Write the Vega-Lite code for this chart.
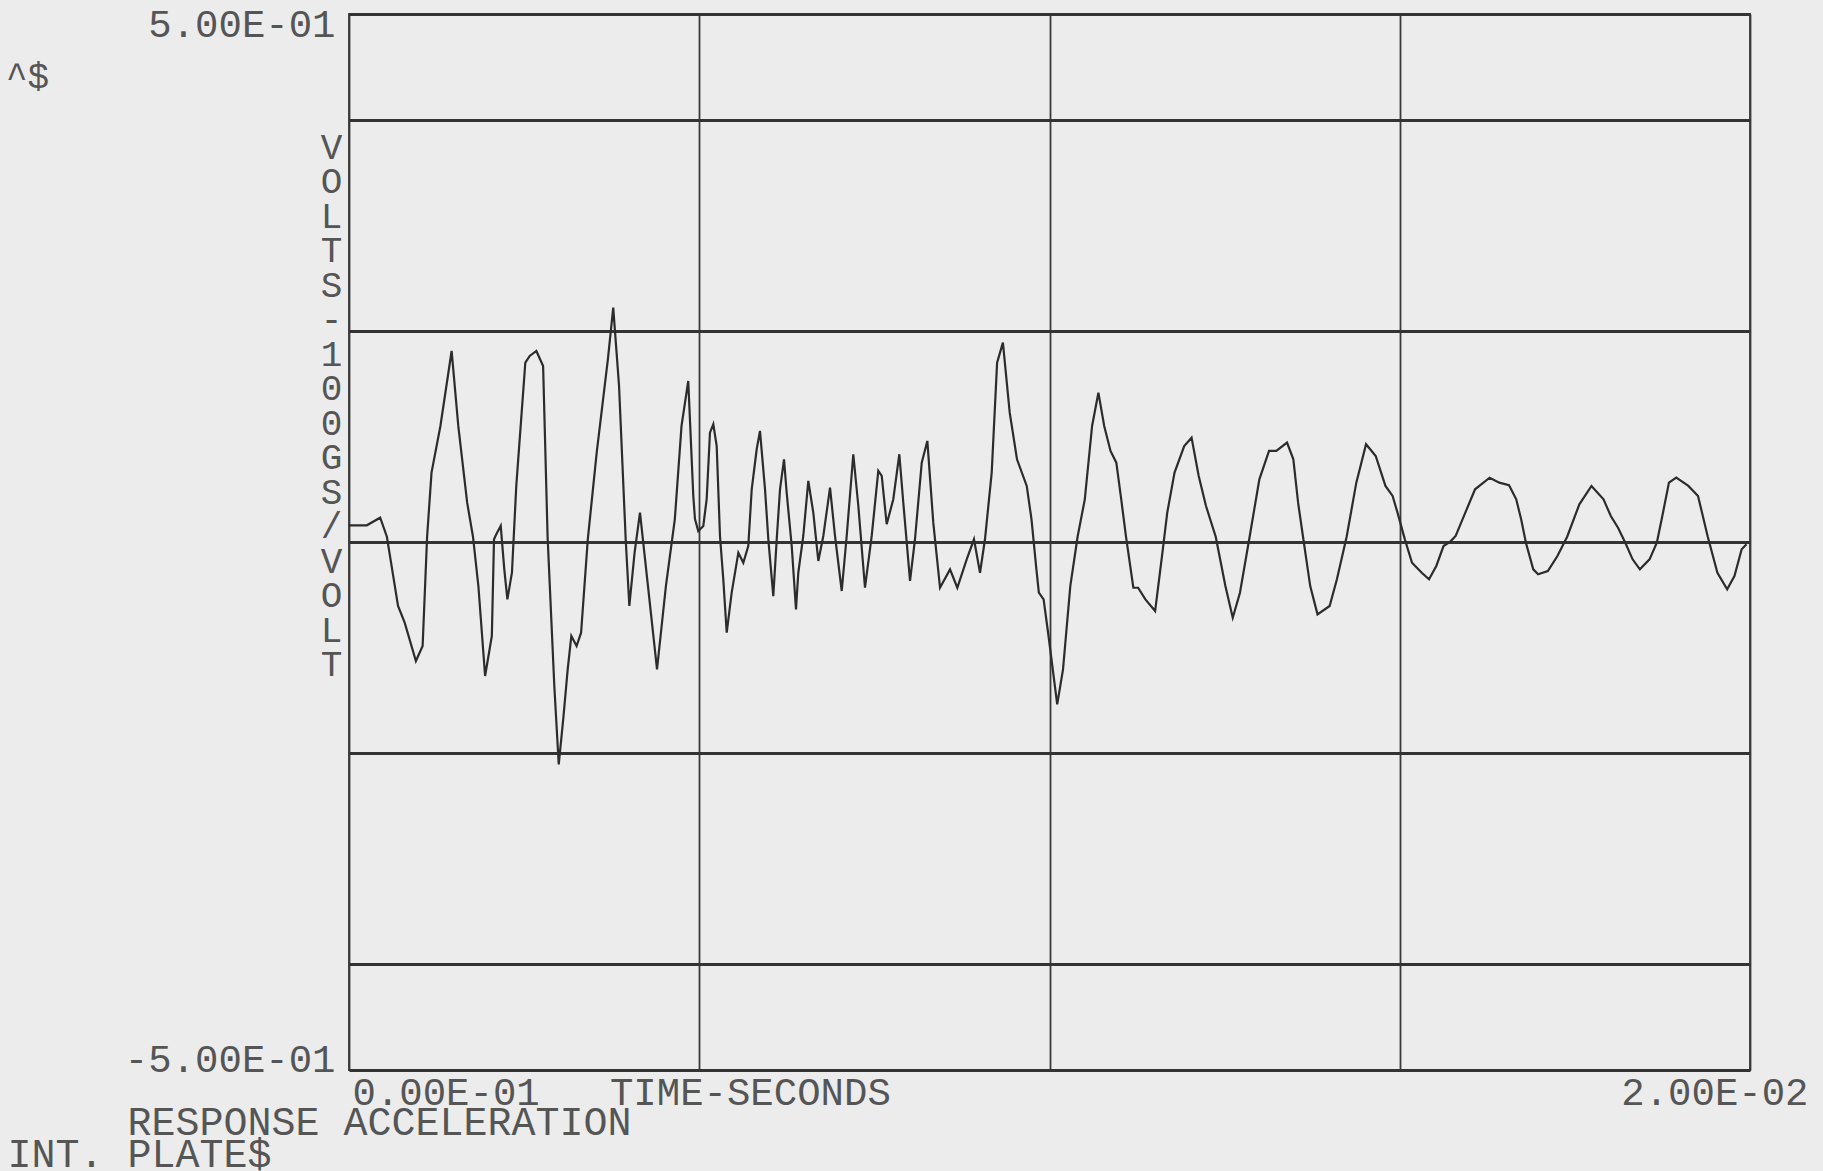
{
  "$schema": "https://vega.github.io/schema/vega-lite/v6.json",
  "autosize": {"type": "none"},
  "width": 1401,
  "height": 1056,
  "padding": {"left": 349, "top": 14, "right": 73, "bottom": 101},
  "background": "#ececec",
  "title": {
    "text": "^$",
    "anchor": "start",
    "frame": "group",
    "orient": "top",
    "offset": 0,
    "dx": -343,
    "dy": 119,
    "baseline": "alphabetic",
    "font": "Liberation Mono",
    "fontSize": 36,
    "fontWeight": "normal",
    "color": "#555555"
  },
  "data": {
    "values": [
      {"t": 0, "v": 0.0158},
      {"t": 0.000254, "v": 0.0158},
      {"t": 0.000445, "v": 0.0230},
      {"t": 0.000541, "v": 0.0050},
      {"t": 0.000700, "v": -0.0606},
      {"t": 0.000795, "v": -0.0764},
      {"t": 0.000955, "v": -0.1127},
      {"t": 0.001051, "v": -0.0985},
      {"t": 0.001115, "v": 0.0050},
      {"t": 0.001178, "v": 0.0657},
      {"t": 0.001305, "v": 0.1099},
      {"t": 0.001465, "v": 0.1809},
      {"t": 0.001560, "v": 0.1099},
      {"t": 0.001687, "v": 0.0372},
      {"t": 0.001770, "v": 0.0050},
      {"t": 0.001847, "v": -0.0417},
      {"t": 0.001943, "v": -0.1269},
      {"t": 0.002039, "v": -0.0890},
      {"t": 0.002070, "v": 0.0025},
      {"t": 0.002103, "v": 0.0073},
      {"t": 0.002166, "v": 0.0152},
      {"t": 0.002217, "v": -0.0259},
      {"t": 0.002261, "v": -0.0543},
      {"t": 0.002326, "v": -0.0291},
      {"t": 0.002388, "v": 0.0531},
      {"t": 0.002517, "v": 0.1699},
      {"t": 0.002580, "v": 0.1762},
      {"t": 0.002675, "v": 0.1809},
      {"t": 0.002771, "v": 0.1667},
      {"t": 0.002835, "v": 0.0050},
      {"t": 0.002931, "v": -0.1364},
      {"t": 0.002994, "v": -0.2106},
      {"t": 0.003058, "v": -0.1680},
      {"t": 0.003122, "v": -0.1206},
      {"t": 0.003174, "v": -0.0890},
      {"t": 0.003249, "v": -0.0985},
      {"t": 0.003313, "v": -0.0859},
      {"t": 0.003409, "v": 0.0025},
      {"t": 0.003536, "v": 0.0846},
      {"t": 0.003696, "v": 0.1731},
      {"t": 0.003772, "v": 0.2220},
      {"t": 0.003855, "v": 0.1478},
      {"t": 0.003950, "v": 0.0025},
      {"t": 0.004002, "v": -0.0606},
      {"t": 0.004077, "v": -0.0101},
      {"t": 0.004154, "v": 0.0278},
      {"t": 0.004268, "v": -0.0417},
      {"t": 0.004397, "v": -0.1206},
      {"t": 0.004524, "v": -0.0417},
      {"t": 0.004651, "v": 0.0215},
      {"t": 0.004747, "v": 0.1099},
      {"t": 0.004843, "v": 0.1525},
      {"t": 0.004915, "v": 0.0436},
      {"t": 0.004939, "v": 0.0218},
      {"t": 0.004986, "v": 0.0104},
      {"t": 0.005058, "v": 0.0152},
      {"t": 0.005106, "v": 0.0407},
      {"t": 0.005153, "v": 0.1035},
      {"t": 0.005201, "v": 0.1115},
      {"t": 0.005249, "v": 0.0909},
      {"t": 0.005296, "v": 0.0057},
      {"t": 0.005343, "v": -0.0351},
      {"t": 0.005392, "v": -0.0859},
      {"t": 0.005463, "v": -0.0480},
      {"t": 0.005558, "v": -0.0101},
      {"t": 0.005629, "v": -0.0196},
      {"t": 0.005700, "v": -0.0038},
      {"t": 0.005749, "v": 0.0499},
      {"t": 0.005820, "v": 0.0878},
      {"t": 0.005867, "v": 0.1052},
      {"t": 0.005939, "v": 0.0499},
      {"t": 0.005986, "v": 0.0026},
      {"t": 0.006057, "v": -0.0512},
      {"t": 0.006106, "v": 0.0026},
      {"t": 0.006153, "v": 0.0499},
      {"t": 0.006210, "v": 0.0783},
      {"t": 0.006248, "v": 0.0467},
      {"t": 0.006320, "v": -0.0038},
      {"t": 0.006381, "v": -0.0638},
      {"t": 0.006414, "v": -0.0291},
      {"t": 0.006485, "v": 0.0057},
      {"t": 0.006557, "v": 0.0578},
      {"t": 0.006628, "v": 0.0278},
      {"t": 0.006700, "v": -0.0180},
      {"t": 0.006771, "v": 0.0057},
      {"t": 0.006867, "v": 0.0514},
      {"t": 0.006938, "v": 0.0057},
      {"t": 0.007034, "v": -0.0464},
      {"t": 0.007105, "v": 0.0057},
      {"t": 0.007199, "v": 0.0831},
      {"t": 0.007271, "v": 0.0341},
      {"t": 0.007366, "v": -0.0433},
      {"t": 0.007462, "v": 0.0057},
      {"t": 0.007556, "v": 0.0673},
      {"t": 0.007605, "v": 0.0625},
      {"t": 0.007676, "v": 0.0168},
      {"t": 0.007770, "v": 0.0405},
      {"t": 0.007856, "v": 0.0831},
      {"t": 0.007913, "v": 0.0372},
      {"t": 0.008009, "v": -0.0369},
      {"t": 0.008080, "v": 0.0026},
      {"t": 0.008176, "v": 0.0751},
      {"t": 0.008256, "v": 0.0957},
      {"t": 0.008341, "v": 0.0183},
      {"t": 0.008437, "v": -0.0433},
      {"t": 0.008580, "v": -0.0259},
      {"t": 0.008684, "v": -0.0433},
      {"t": 0.008818, "v": -0.0164},
      {"t": 0.008922, "v": 0.0026},
      {"t": 0.009008, "v": -0.0291},
      {"t": 0.009079, "v": 0.0026},
      {"t": 0.009175, "v": 0.0657},
      {"t": 0.009252, "v": 0.1699},
      {"t": 0.009335, "v": 0.1888},
      {"t": 0.009432, "v": 0.1225},
      {"t": 0.009536, "v": 0.0783},
      {"t": 0.009675, "v": 0.0531},
      {"t": 0.009743, "v": 0.0215},
      {"t": 0.009813, "v": -0.0259},
      {"t": 0.009848, "v": -0.0480},
      {"t": 0.009916, "v": -0.0543},
      {"t": 0.009986, "v": -0.0890},
      {"t": 0.010110, "v": -0.1538},
      {"t": 0.010193, "v": -0.1206},
      {"t": 0.010297, "v": -0.0417},
      {"t": 0.010401, "v": 0.0050},
      {"t": 0.010504, "v": 0.0404},
      {"t": 0.010608, "v": 0.1099},
      {"t": 0.010698, "v": 0.1414},
      {"t": 0.010781, "v": 0.1099},
      {"t": 0.010871, "v": 0.0862},
      {"t": 0.010954, "v": 0.0751},
      {"t": 0.011024, "v": 0.0404},
      {"t": 0.011092, "v": 0.0050},
      {"t": 0.011197, "v": -0.0433},
      {"t": 0.011265, "v": -0.0433},
      {"t": 0.011369, "v": -0.0543},
      {"t": 0.011508, "v": -0.0654},
      {"t": 0.011612, "v": -0.0101},
      {"t": 0.011681, "v": 0.0278},
      {"t": 0.011785, "v": 0.0657},
      {"t": 0.011923, "v": 0.0909},
      {"t": 0.012028, "v": 0.0988},
      {"t": 0.012130, "v": 0.0625},
      {"t": 0.012234, "v": 0.0341},
      {"t": 0.012373, "v": 0.0050},
      {"t": 0.012511, "v": -0.0417},
      {"t": 0.012616, "v": -0.0717},
      {"t": 0.012719, "v": -0.0480},
      {"t": 0.012857, "v": 0.0050},
      {"t": 0.012996, "v": 0.0594},
      {"t": 0.013134, "v": 0.0862},
      {"t": 0.013238, "v": 0.0862},
      {"t": 0.013391, "v": 0.0941},
      {"t": 0.013481, "v": 0.0783},
      {"t": 0.013549, "v": 0.0372},
      {"t": 0.013619, "v": 0.0050},
      {"t": 0.013722, "v": -0.0417},
      {"t": 0.013826, "v": -0.0685},
      {"t": 0.013999, "v": -0.0606},
      {"t": 0.014103, "v": -0.0353},
      {"t": 0.014242, "v": 0.0050},
      {"t": 0.014380, "v": 0.0562},
      {"t": 0.014519, "v": 0.0926},
      {"t": 0.014657, "v": 0.0815},
      {"t": 0.014796, "v": 0.0531},
      {"t": 0.014898, "v": 0.0436},
      {"t": 0.014968, "v": 0.0278},
      {"t": 0.015073, "v": 0.0025},
      {"t": 0.015175, "v": -0.0196},
      {"t": 0.015314, "v": -0.0291},
      {"t": 0.015418, "v": -0.0353},
      {"t": 0.015522, "v": -0.0227},
      {"t": 0.015625, "v": -0.0038},
      {"t": 0.015729, "v": 0.0009},
      {"t": 0.015798, "v": 0.0057},
      {"t": 0.015936, "v": 0.0278},
      {"t": 0.016075, "v": 0.0499},
      {"t": 0.016283, "v": 0.0609},
      {"t": 0.016422, "v": 0.0562},
      {"t": 0.016560, "v": 0.0537},
      {"t": 0.016663, "v": 0.0404},
      {"t": 0.016733, "v": 0.0215},
      {"t": 0.016801, "v": -0.0007},
      {"t": 0.016906, "v": -0.0259},
      {"t": 0.016975, "v": -0.0306},
      {"t": 0.017114, "v": -0.0275},
      {"t": 0.017251, "v": -0.0133},
      {"t": 0.017390, "v": 0.0050},
      {"t": 0.017564, "v": 0.0357},
      {"t": 0.017737, "v": 0.0531},
      {"t": 0.017909, "v": 0.0404},
      {"t": 0.018013, "v": 0.0246},
      {"t": 0.018116, "v": 0.0135},
      {"t": 0.018220, "v": -0.0007},
      {"t": 0.018324, "v": -0.0164},
      {"t": 0.018428, "v": -0.0259},
      {"t": 0.018566, "v": -0.0164},
      {"t": 0.018670, "v": -0.0007},
      {"t": 0.018739, "v": 0.0215},
      {"t": 0.018843, "v": 0.0562},
      {"t": 0.018947, "v": 0.0609},
      {"t": 0.019120, "v": 0.0531},
      {"t": 0.019258, "v": 0.0436},
      {"t": 0.019397, "v": 0.0050},
      {"t": 0.019535, "v": -0.0291},
      {"t": 0.019674, "v": -0.0448},
      {"t": 0.019778, "v": -0.0322},
      {"t": 0.019881, "v": -0.0069},
      {"t": 0.019950, "v": -0.0022}
    ]
  },
  "mark": {"type": "line", "color": "#2c2c2c", "strokeWidth": 2.2, "clip": true},
  "encoding": {
    "x": {
      "field": "t",
      "type": "quantitative",
      "scale": {"domain": [0, 0.02], "nice": false, "zero": false},
      "axis": {
        "values": [0, 0.005, 0.01, 0.015, 0.02],
        "grid": true,
        "gridColor": "#3a3a3a",
        "gridWidth": 1.8,
        "gridOpacity": 1,
        "domain": false,
        "ticks": false,
        "labelExpr": "datum.value == 0 ? '0.00E-01\u00a0\u00a0\u00a0TIME-SECONDS' : (datum.value == 0.02 ? '2.00E-02' : '')",
        "labelFlush": true,
        "labelFlushOffset": 27.5,
        "labelOffset": 30.5,
        "labelOverlap": false,
        "labelBound": false,
        "labelLimit": 0,
        "labelPadding": 3,
        "labelFont": "Liberation Mono",
        "labelFontSize": 39,
        "labelColor": "#555555",
        "title": ["\u200b\u00a0\u00a0\u00a0\u00a0\u00a0RESPONSE ACCELERATION", "INT. PLATE$"],
        "titleX": -342,
        "titleY": 64,
        "titleAlign": "left",
        "titleBaseline": "alphabetic",
        "titleLineHeight": 32,
        "titleLimit": 0,
        "titleFont": "Liberation Mono",
        "titleFontSize": 40,
        "titleFontWeight": "normal",
        "titleColor": "#555555"
      }
    },
    "y": {
      "field": "v",
      "type": "quantitative",
      "scale": {"domain": [-0.5, 0.5], "nice": false, "zero": false},
      "axis": {
        "values": [-0.5, -0.4, -0.2, 0, 0.2, 0.4, 0.5],
        "grid": true,
        "gridColor": "#333333",
        "gridWidth": 3,
        "gridOpacity": 1,
        "domain": false,
        "ticks": false,
        "labelExpr": "datum.value == 0.5 ? '5.00E-01' : (datum.value == -0.5 ? '-5.00E-01' : '')",
        "labelFlush": true,
        "labelFlushOffset": 9,
        "labelOverlap": false,
        "labelBound": false,
        "labelLimit": 0,
        "labelPadding": 14,
        "labelFont": "Liberation Mono",
        "labelFontSize": 39,
        "labelColor": "#555555",
        "title": ["V", "O", "L", "T", "S", "-", "1", "0", "0", "G", "S", "/", "V", "O", "L", "T"],
        "titleAngle": 0,
        "titleX": -18,
        "titleY": 144,
        "titleAlign": "center",
        "titleBaseline": "alphabetic",
        "titleLineHeight": 34.5,
        "titleFont": "Liberation Mono",
        "titleFontSize": 36,
        "titleFontWeight": "normal",
        "titleColor": "#555555"
      }
    }
  },
  "config": {"view": {"stroke": "#3a3a3a", "strokeWidth": 1.8}}
}
